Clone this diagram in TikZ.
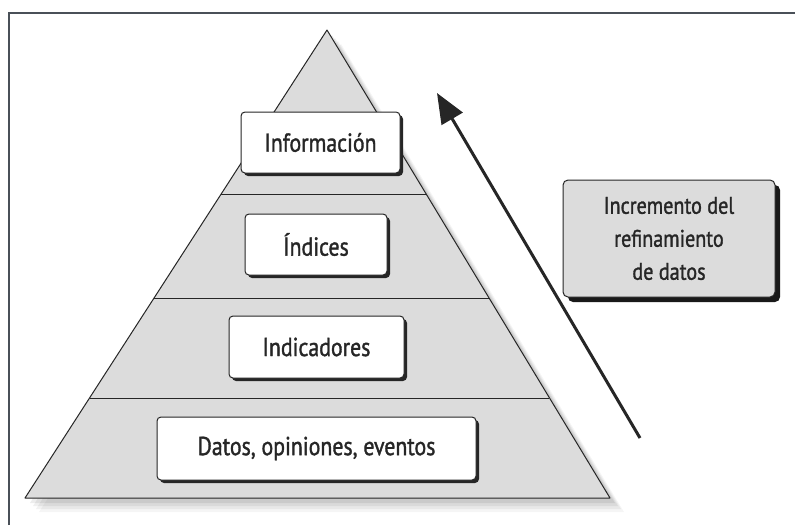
\documentclass[tikz,border=0pt]{standalone}
\usepackage{fontspec}
\setmainfont{PT Sans}[FakeStretch=0.84, FakeBold=1.3]
\usetikzlibrary{shadows,arrows.meta}
\definecolor{stone}{HTML}{DCDCDC}
\definecolor{ink}{HTML}{262626}
\definecolor{framec}{HTML}{4A5058}
\tikzset{
  levelbox/.style={draw=ink, line width=1pt, fill=white, rounded corners=4pt,
    text=ink, font=\fontsize{26}{29}\selectfont,
    drop shadow={shadow xshift=3pt, shadow yshift=-3pt, fill=black!85, opacity=1}},
  notebox/.style={draw=ink, line width=1pt, fill=stone, rounded corners=5pt,
    text=ink, font=\fontsize{24}{33}\selectfont, align=center,
    drop shadow={shadow xshift=5pt, shadow yshift=-5pt, fill=black!90, opacity=1}},
  layerline/.style={draw=ink, line width=0.9pt},
}
\begin{document}
\begin{tikzpicture}[x=1pt, y=-1pt]
\useasboundingbox (0,0) rectangle (795,525);
\fill[white] (0,0) rectangle (795,525);
% frame
\draw[framec, line width=2pt] (9,525) -- (9,13) -- (795,13);
% pyramid shadow
\foreach \s/\o in {14/0.04,11/0.05,8/0.06,5/0.07}{
  \fill[black, opacity=\o] (327+\s,30+\s) -- (25+\s,498+\s) -- (610+\s,498+\s) -- cycle;
}
% pyramid
\coordinate (apex) at (327,30);
\coordinate (bl) at (25,498);
\coordinate (br) at (610,498);
\filldraw[fill=stone, draw=ink, line width=1pt, line join=round] (apex) -- (bl) -- (br) -- cycle;
\coordinate (l1a) at (221,194); \coordinate (l1b) at (426,194);
\coordinate (l2a) at (154,298); \coordinate (l2b) at (489,298);
\coordinate (l3a) at (90,398);  \coordinate (l3b) at (549,398);
\draw[layerline] (l1a) -- (l1b);
\draw[layerline] (l2a) -- (l2b);
\draw[layerline] (l3a) -- (l3b);
% level boxes
\node[levelbox, minimum width=159pt, minimum height=61pt] (info) at (320.5,142.5) {Información};
\node[levelbox, minimum width=142pt, minimum height=61pt] (indices) at (316,244.5) {Índices};
\node[levelbox, minimum width=175pt, minimum height=62pt] (indic) at (316.5,347) {Indicadores};
\node[levelbox, minimum width=319pt, minimum height=63pt] (datos) at (316.5,448.5) {Datos, opiniones, eventos};
% note box
\node[notebox, minimum width=212pt, minimum height=117pt] (incr) at (669,238.5) {Incremento del\\refinamiento\\de datos};
% arrow
\coordinate (astart) at (640,438);
\coordinate (aend) at (437,93);
\draw[ink, line width=3pt, -{Triangle[length=30pt,width=24pt]}] (astart) -- (aend);
\end{tikzpicture}
\end{document}
